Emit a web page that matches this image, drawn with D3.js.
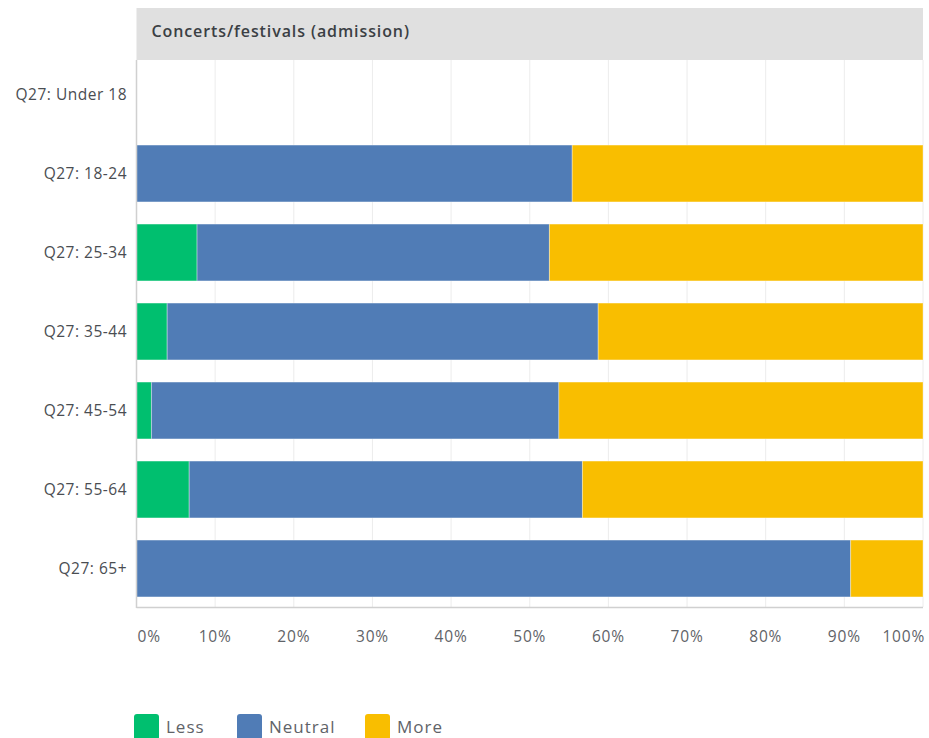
<!DOCTYPE html>
<html lang="en">
<head>
<meta charset="UTF-8">
<title>Concerts/festivals (admission)</title>
<script src="https://d3js.org/d3.v7.min.js"></script>
<style>
  body { margin: 0; background: #fff; font-family: "Open Sans", "Noto Sans", sans-serif; }
  #chart svg { display: block; }
</style>
</head>
<body>
<div id="chart"></div>
<script>
// data (percent)
const title = "Concerts/festivals (admission)";
const groups = ["Q27: Under 18", "Q27: 18-24", "Q27: 25-34", "Q27: 35-44", "Q27: 45-54", "Q27: 55-64", "Q27: 65+"];
const seriesNames = ["Less", "Neutral", "More"];
const lessValues    = [0, 0,    7.7, 3.9, 1.9, 6.7, 0];
const neutralValues = [0, 55.4, 44.8, 54.8, 51.8, 50.0, 90.8];
const moreValues    = [0, 44.6, 47.5, 41.3, 46.3, 43.3, 9.2];
const ticks = [0, 10, 20, 30, 40, 50, 60, 70, 80, 90, 100];
const colors = ["#00bf6f", "#507cb6", "#f9be00"];

const width = 929, height = 738;
const margin = { left: 136.5, right: 6, top: 55, bottom: 130 };

const svg = d3.select("#chart").append("svg")
    .attr("width", width)
    .attr("height", height);

const x = d3.scaleLinear().domain([0, 100]).range([margin.left, width - margin.right]);
const y = d3.scaleBand().domain(groups).range([margin.top, height - margin.bottom]).paddingInner(0.28).paddingOuter(0.14);

// title bar
svg.append("rect")
    .attr("x", x(0)).attr("y", 8)
    .attr("width", x(100) - x(0)).attr("height", 52)
    .attr("fill", "#e0e0e0");
svg.append("text")
    .attr("x", x(0) + 15).attr("y", 37)
    .attr("font-size", 16).attr("font-weight", 600)
    .attr("letter-spacing", 0.9)
    .attr("fill", "#3b3f44")
    .text(title);

// gridlines
svg.append("g")
    .selectAll("line")
    .data(ticks.slice(1))
    .join("line")
    .attr("x1", d => x(d)).attr("x2", d => x(d))
    .attr("y1", 60).attr("y2", 607)
    .attr("stroke", "#ececec").attr("stroke-width", 1);

// stacked bars
const rows = groups.map((g, i) => ({ group: g, Less: lessValues[i], Neutral: neutralValues[i], More: moreValues[i] }));
const stack = d3.stack().keys(seriesNames)(rows);

svg.append("g")
    .selectAll("g")
    .data(stack)
    .join("g")
    .attr("fill", (d, i) => colors[i])
    .selectAll("rect")
    .data(d => d.filter(s => s[1] - s[0] > 0))
    .join("rect")
    .attr("x", d => x(d[0]))
    .attr("width", d => x(d[1]) - x(d[0]))
    .attr("y", d => y(d.data.group))
    .attr("height", y.bandwidth())
    .attr("stroke", "rgba(255,255,255,0.35)")
    .attr("stroke-width", 1);

// axis frame
svg.append("line")
    .attr("x1", x(0)).attr("x2", x(0)).attr("y1", 60).attr("y2", 608)
    .attr("stroke", "#d0d0d0").attr("stroke-width", 1.5);
svg.append("line")
    .attr("x1", x(0)).attr("x2", x(100)).attr("y1", 607.5).attr("y2", 607.5)
    .attr("stroke", "#d0d0d0").attr("stroke-width", 1.5);

// y labels
svg.append("g")
    .selectAll("text")
    .data(groups)
    .join("text")
    .attr("x", 127)
    .attr("y", d => y(d) + y.bandwidth() / 2 + 5)
    .attr("text-anchor", "end")
    .attr("font-size", 15.5)
    .attr("letter-spacing", 0.5)
    .attr("fill", "#4a4d52")
    .text(d => d);

// x tick labels
svg.append("g")
    .selectAll("text")
    .data(ticks)
    .join("text")
    .attr("x", d => d === 0 ? x(d) + 1 : d === 100 ? x(d) + 2 : x(d))
    .attr("y", 642)
    .attr("text-anchor", d => d === 0 ? "start" : d === 100 ? "end" : "middle")
    .attr("font-size", 15.5)
    .attr("letter-spacing", 0.8)
    .attr("fill", "#5f6368")
    .text(d => d + "%");

// legend
const legendX = [134, 237, 365];
const legend = svg.append("g")
    .selectAll("g")
    .data(seriesNames)
    .join("g")
    .attr("transform", (d, i) => `translate(${legendX[i]},714)`);
legend.append("rect")
    .attr("width", 25).attr("height", 26).attr("rx", 3)
    .attr("fill", (d, i) => colors[i]);
legend.append("text")
    .attr("x", 32).attr("y", 19)
    .attr("font-size", 17)
    .attr("letter-spacing", 1)
    .attr("fill", "#5f6368")
    .text(d => d);
</script>
</body>
</html>
